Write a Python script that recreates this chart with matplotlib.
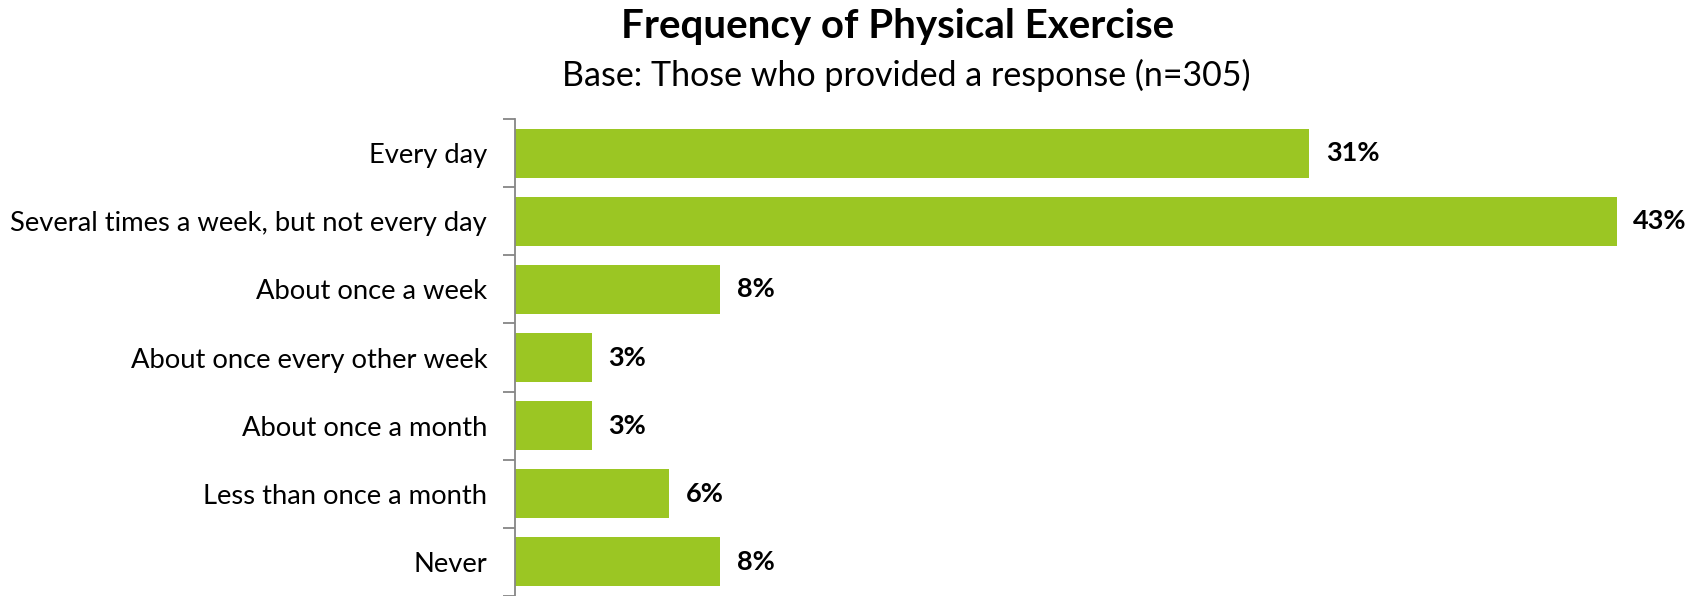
import matplotlib.pyplot as plt
import numpy as np

# ============================================================
# DATA
# ============================================================

categories = [
    "Every day",
    "Several times a week, but not every day",
    "About once a week",
    "About once every other week",
    "About once a month",
    "Less than once a month",
    "Never",
]
values = [31, 43, 8, 3, 3, 6, 8]

title = "Frequency of Physical Exercise"
subtitle = "Base: Those who provided a response (n=305)"

# ============================================================
# PLOT
# ============================================================

plt.rcParams["font.family"] = ["Lato", "DejaVu Sans"]

fig = plt.figure(figsize=(16.93, 5.96), dpi=100)
ax = fig.add_axes([0.3042, 0.0, 0.69, 0.8003])

y = np.arange(len(categories))
ax.barh(y, values, height=0.72, color="#9BC623")

ax.set_ylim(len(categories) - 0.5, -0.5)
ax.set_xlim(0, 45.6)

ax.set_yticks(y)
ax.set_yticklabels(categories, fontsize=19.7)
ax.tick_params(axis="y", which="major", length=0, pad=20)
ax.set_yticks(np.arange(len(categories) + 1) - 0.5, minor=True)
ax.tick_params(axis="y", which="minor", length=9, width=1.3, color="#868686")
ax.set_xticks([])

for s in ["top", "right", "bottom"]:
    ax.spines[s].set_visible(False)
ax.spines["left"].set_color("#868686")
ax.spines["left"].set_linewidth(1.3)

for yi, v in zip(y, values):
    ax.annotate(f"{v}%", (v, yi), xytext=(12, 0), textcoords="offset points",
                va="center", ha="left", fontsize=19.5, fontweight="bold")

fig.text(0.53, 0.956, title, ha="center", va="center", fontsize=29, fontweight="bold")
fig.text(0.5355, 0.873, subtitle, ha="center", va="center", fontsize=24.5)

fig.savefig("out.png", dpi=100)
